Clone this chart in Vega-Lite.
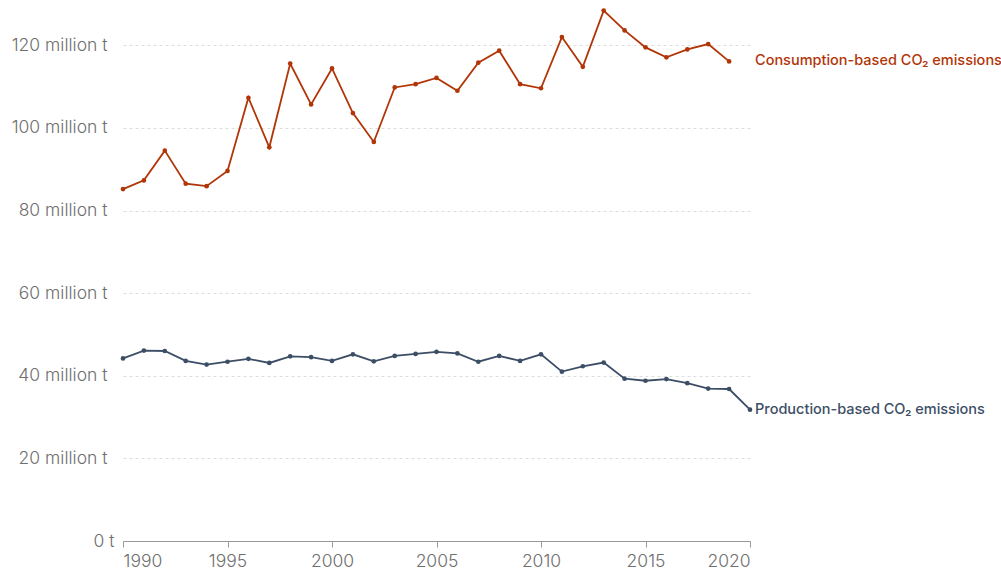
{
  "$schema": "https://vega.github.io/schema/vega-lite/v6.json",
  "autosize": "none",
  "width": 627,
  "height": 537,
  "padding": {"left": 123, "top": 4, "right": 251, "bottom": 34},
  "background": "white",
  "config": {"view": {"stroke": null}, "font": "Inter"},
  "data": {"values": [
    {"year": 1990, "series": "Consumption", "value": 85.2},
    {"year": 1991, "series": "Consumption", "value": 87.3},
    {"year": 1992, "series": "Consumption", "value": 94.5},
    {"year": 1993, "series": "Consumption", "value": 86.5},
    {"year": 1994, "series": "Consumption", "value": 85.9},
    {"year": 1995, "series": "Consumption", "value": 89.6},
    {"year": 1996, "series": "Consumption", "value": 107.3},
    {"year": 1997, "series": "Consumption", "value": 95.3},
    {"year": 1998, "series": "Consumption", "value": 115.6},
    {"year": 1999, "series": "Consumption", "value": 105.7},
    {"year": 2000, "series": "Consumption", "value": 114.4},
    {"year": 2001, "series": "Consumption", "value": 103.6},
    {"year": 2002, "series": "Consumption", "value": 96.6},
    {"year": 2003, "series": "Consumption", "value": 109.8},
    {"year": 2004, "series": "Consumption", "value": 110.6},
    {"year": 2005, "series": "Consumption", "value": 112.1},
    {"year": 2006, "series": "Consumption", "value": 109.0},
    {"year": 2007, "series": "Consumption", "value": 115.8},
    {"year": 2008, "series": "Consumption", "value": 118.7},
    {"year": 2009, "series": "Consumption", "value": 110.6},
    {"year": 2010, "series": "Consumption", "value": 109.6},
    {"year": 2011, "series": "Consumption", "value": 122.0},
    {"year": 2012, "series": "Consumption", "value": 114.8},
    {"year": 2013, "series": "Consumption", "value": 128.4},
    {"year": 2014, "series": "Consumption", "value": 123.6},
    {"year": 2015, "series": "Consumption", "value": 119.5},
    {"year": 2016, "series": "Consumption", "value": 117.1},
    {"year": 2017, "series": "Consumption", "value": 119.0},
    {"year": 2018, "series": "Consumption", "value": 120.3},
    {"year": 2019, "series": "Consumption", "value": 116.1},
    {"year": 1990, "series": "Production", "value": 44.2},
    {"year": 1991, "series": "Production", "value": 46.1},
    {"year": 1992, "series": "Production", "value": 46.0},
    {"year": 1993, "series": "Production", "value": 43.6},
    {"year": 1994, "series": "Production", "value": 42.7},
    {"year": 1995, "series": "Production", "value": 43.4},
    {"year": 1996, "series": "Production", "value": 44.1},
    {"year": 1997, "series": "Production", "value": 43.1},
    {"year": 1998, "series": "Production", "value": 44.7},
    {"year": 1999, "series": "Production", "value": 44.5},
    {"year": 2000, "series": "Production", "value": 43.6},
    {"year": 2001, "series": "Production", "value": 45.2},
    {"year": 2002, "series": "Production", "value": 43.5},
    {"year": 2003, "series": "Production", "value": 44.8},
    {"year": 2004, "series": "Production", "value": 45.3},
    {"year": 2005, "series": "Production", "value": 45.8},
    {"year": 2006, "series": "Production", "value": 45.4},
    {"year": 2007, "series": "Production", "value": 43.4},
    {"year": 2008, "series": "Production", "value": 44.8},
    {"year": 2009, "series": "Production", "value": 43.6},
    {"year": 2010, "series": "Production", "value": 45.2},
    {"year": 2011, "series": "Production", "value": 41.0},
    {"year": 2012, "series": "Production", "value": 42.3},
    {"year": 2013, "series": "Production", "value": 43.2},
    {"year": 2014, "series": "Production", "value": 39.3},
    {"year": 2015, "series": "Production", "value": 38.8},
    {"year": 2016, "series": "Production", "value": 39.2},
    {"year": 2017, "series": "Production", "value": 38.2},
    {"year": 2018, "series": "Production", "value": 36.9},
    {"year": 2019, "series": "Production", "value": 36.8},
    {"year": 2020, "series": "Production", "value": 31.8}
  ]},
  "encoding": {
    "x": {
      "field": "year", "type": "quantitative",
      "scale": {"domain": [1990, 2020], "nice": false, "zero": false},
      "axis": {
        "title": null, "values": [1990, 1995, 2000, 2005, 2010, 2015, 2020],
        "format": "d", "labelFlush": true, "grid": false,
        "domainColor": "#999", "tickColor": "#999", "tickSize": 6,
        "labelFontSize": 17.5, "labelColor": "#6e6e6e", "labelPadding": 5,
        "labelFont": "Inter", "labelFontWeight": 300
      }
    },
    "y": {
      "field": "value", "type": "quantitative",
      "scale": {"domain": [0, 130], "nice": false},
      "axis": {
        "title": null, "values": [0, 20, 40, 60, 80, 100, 120],
        "labelExpr": "datum.value == 0 ? '0 t' : datum.value + ' million t'",
        "domain": false, "ticks": false,
        "grid": true, "gridDash": [3, 3], "gridColor": "#dddddd",
        "gridOpacity": {"condition": {"test": "datum.value == 0", "value": 0}, "value": 1},
        "labelFontSize": 17.5, "labelColor": "#6e6e6e", "labelFont": "Inter", "labelFontWeight": 300,
        "labelPadding": {"condition": {"test": "datum.value == 0", "value": 9}, "value": 16}
      }
    },
    "color": {
      "field": "series", "type": "nominal",
      "scale": {"domain": ["Consumption", "Production"], "range": ["#b13507", "#3c4e66"]},
      "legend": null
    }
  },
  "layer": [
    {"mark": {"type": "line", "strokeWidth": 1.8}},
    {"mark": {"type": "point", "filled": true, "size": 22, "opacity": 1}},
    {
      "transform": [
        {"joinaggregate": [{"op": "max", "field": "year", "as": "maxYear"}], "groupby": ["series"]},
        {"filter": "datum.year == datum.maxYear"},
        {"calculate": "datum.series + '-based CO₂ emissions'", "as": "label"}
      ],
      "mark": {"type": "text", "align": "left", "baseline": "middle", "dx": 5, "fontSize": 14.5, "fontWeight": 500, "font": "Inter"},
      "encoding": {
        "x": {"datum": 2020},
        "text": {"field": "label"}
      }
    }
  ]
}
